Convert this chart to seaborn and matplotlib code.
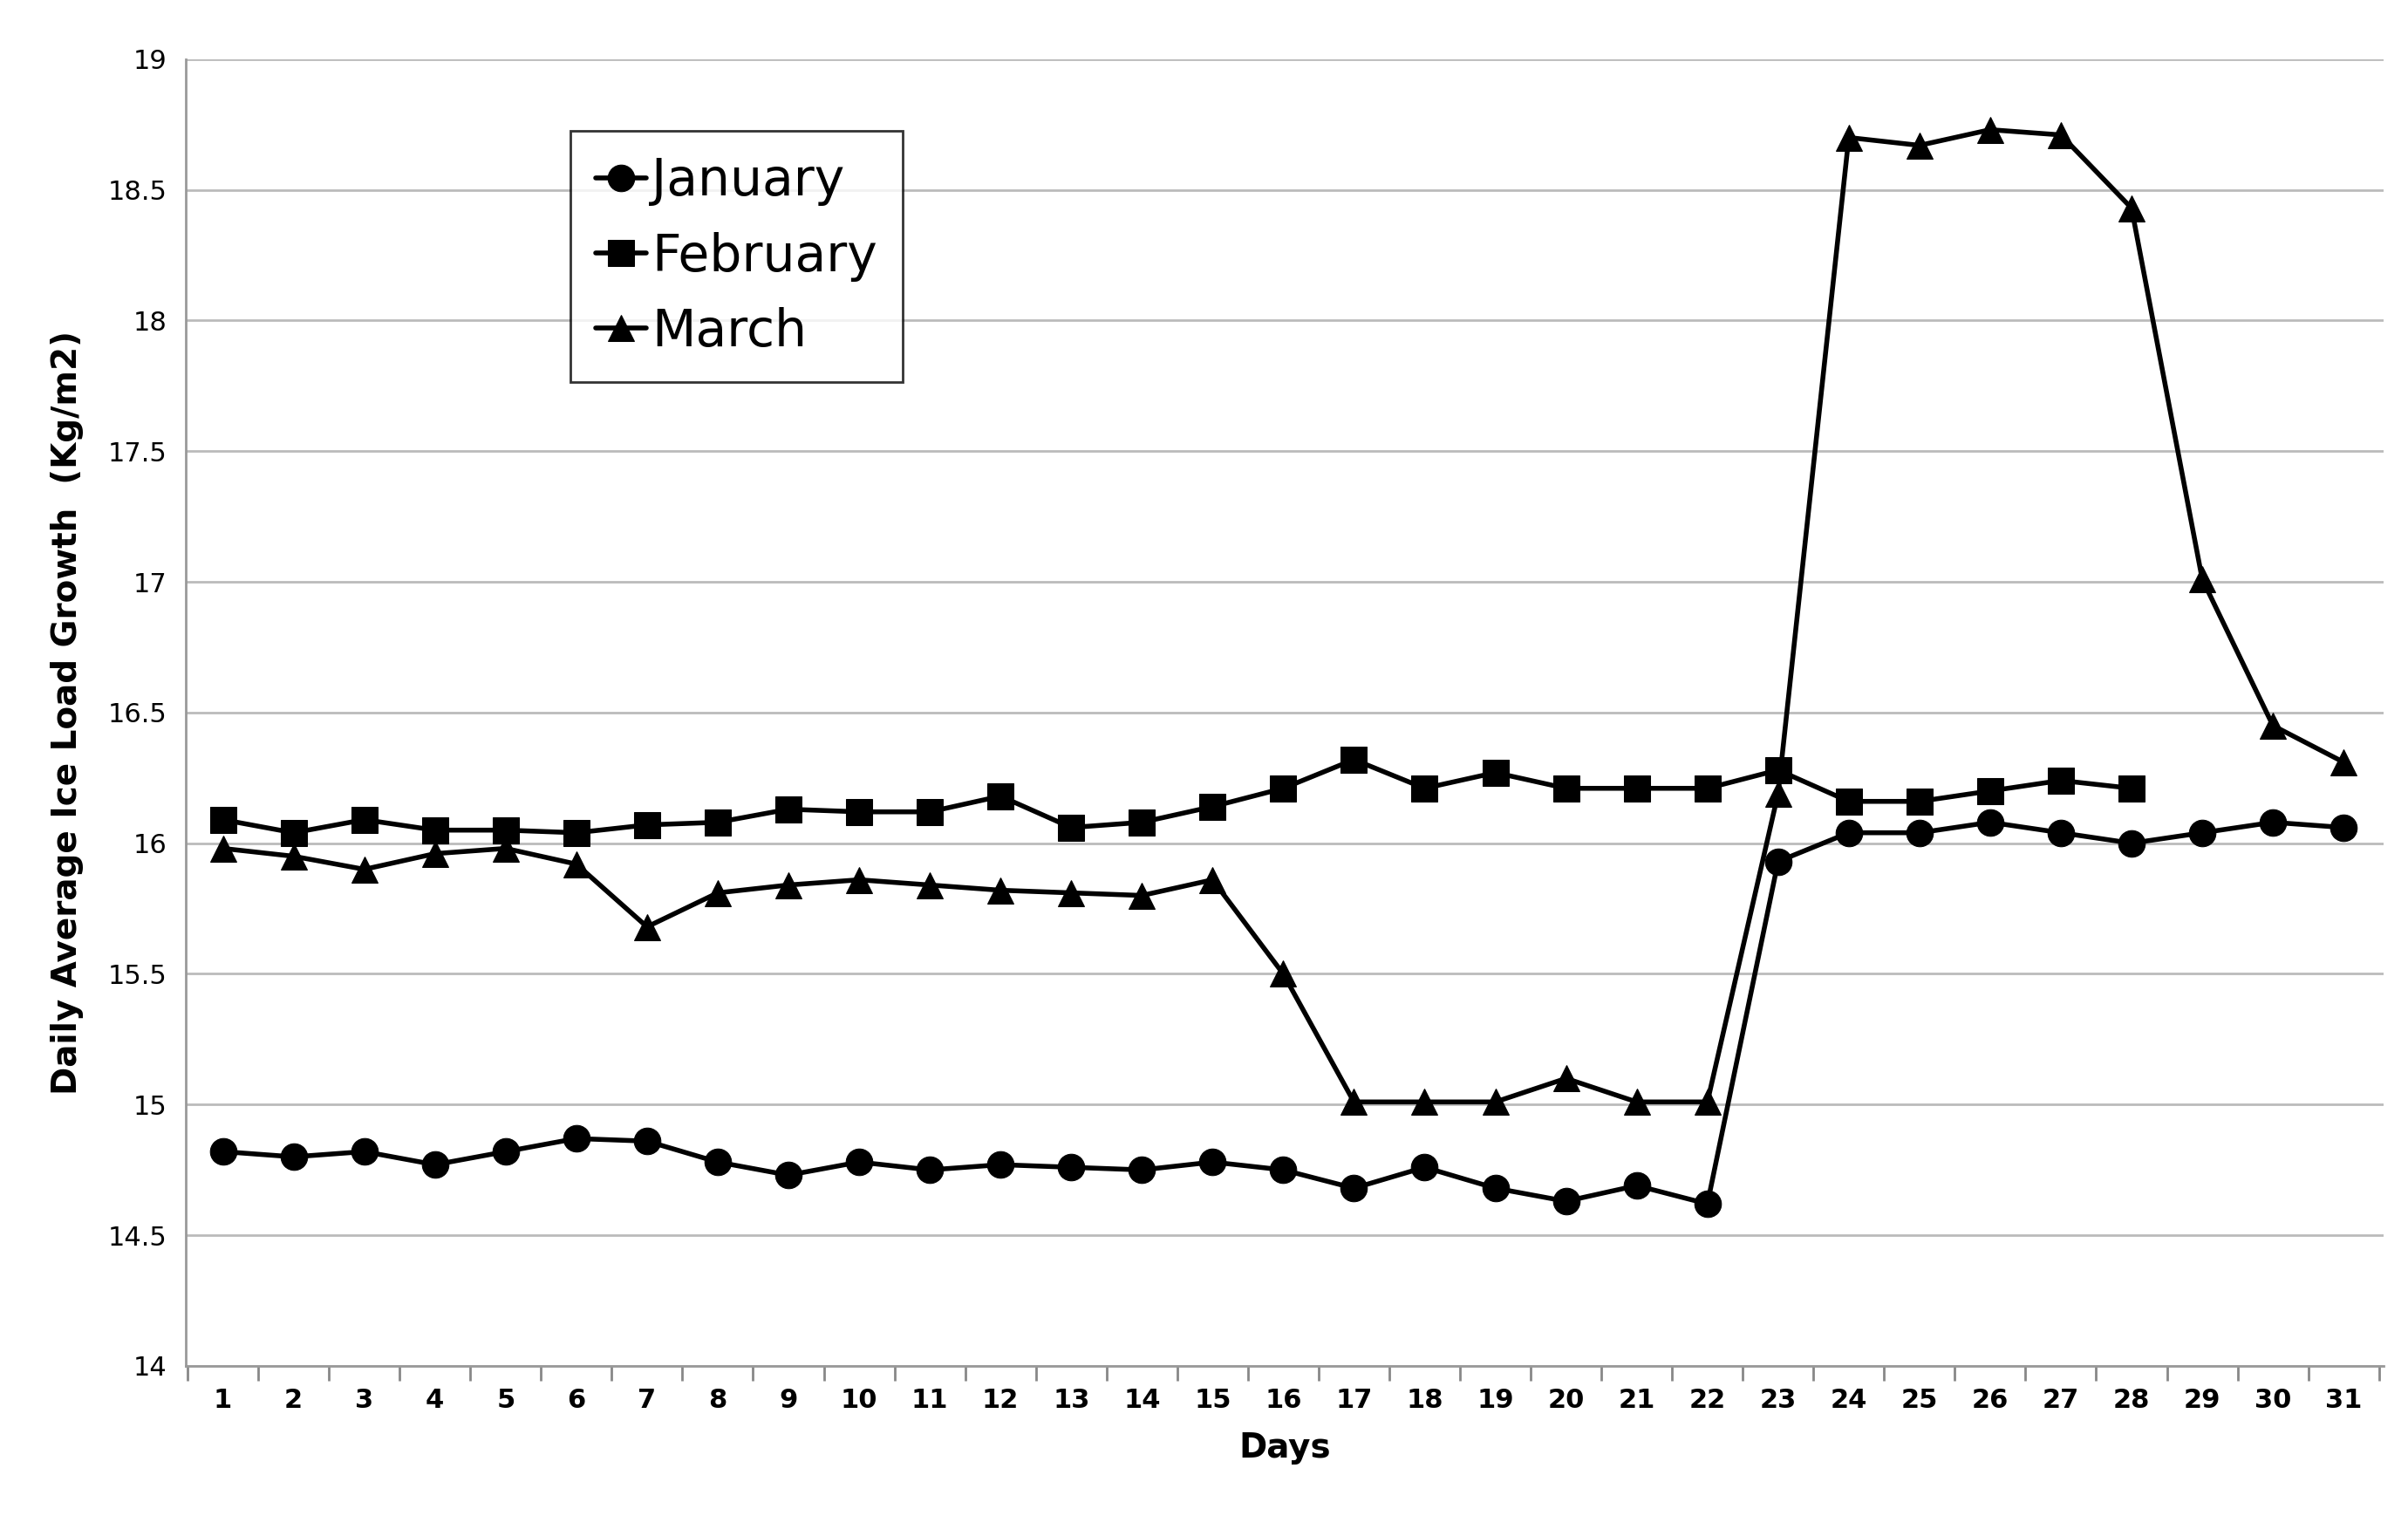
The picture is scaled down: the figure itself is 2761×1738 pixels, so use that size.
import matplotlib
matplotlib.use("Agg")
import matplotlib.pyplot as plt
import seaborn as sns
import pandas as pd
import numpy as np

days = list(range(1, 32))
january = [14.82,14.80,14.82,14.77,14.82,14.87,14.86,14.78,14.73,14.78,14.75,14.77,14.76,14.75,14.78,14.75,
           14.68,14.76,14.68,14.63,14.69,14.62,15.93,16.04,16.04,16.08,16.04,16.00,16.04,16.08,16.06]
february = [16.09,16.04,16.09,16.05,16.05,16.04,16.07,16.08,16.13,16.12,16.12,16.18,16.06,16.08,16.14,16.21,
            16.32,16.21,16.27,16.21,16.21,16.21,16.28,16.16,16.16,16.20,16.24,16.21]
march = [15.98,15.95,15.90,15.96,15.98,15.92,15.68,15.81,15.84,15.86,15.84,15.82,15.81,15.80,15.86,15.50,
         15.01,15.01,15.01,15.10,15.01,15.01,16.19,18.70,18.67,18.73,18.71,18.43,17.01,16.45,16.31]

sns.set_theme(style="white")
plt.rcParams['font.family'] = ['DejaVu Sans']
plt.rcParams['text.color'] = 'black'
plt.rcParams['axes.labelcolor'] = 'black'
plt.rcParams['xtick.color'] = 'black'
plt.rcParams['ytick.color'] = 'black'

fig = plt.figure(figsize=(27.61, 17.38), dpi=100)
ax = fig.add_axes([0.077, 0.099, 0.913, 0.862])

for name, vals, mk in [("January", january, "o"), ("February", february, "s"), ("March", march, "^")]:
    df = pd.DataFrame({"day": days[:len(vals)], "v": vals})
    sns.lineplot(data=df, x="day", y="v", ax=ax, color="black", lw=4, marker=mk,
                 markersize=22, markeredgecolor="black", label=name)

ax.set_xlim(0.47, 31.57)
ax.set_ylim(14, 19)
ax.set_yticks(np.arange(14, 19.01, 0.5))
ax.set_yticklabels(["14", "14.5", "15", "15.5", "16", "16.5", "17", "17.5", "18", "18.5", "19"], fontsize=22)
ax.set_xticks(days)
ax.set_xticklabels([str(d) for d in days], fontsize=22, fontweight="bold")
ax.set_xticks(np.arange(0.5, 32, 1), minor=True)
ax.tick_params(axis="x", which="major", length=0, pad=18)
ax.tick_params(axis="x", which="minor", length=12, color="#888888", width=2, bottom=True)
ax.tick_params(axis="y", length=0, pad=15)
ax.yaxis.grid(True, color="#bbbbbb", lw=2)
for s in ["top", "right"]:
    ax.spines[s].set_visible(False)
for s in ["left", "bottom"]:
    ax.spines[s].set_color("#999999")
    ax.spines[s].set_linewidth(2)
ax.set_xlabel("Days", fontsize=28, fontweight="bold", labelpad=15)
ax.set_ylabel("Daily Average Ice Load Growth  (Kg/m2)", fontsize=28, fontweight="bold", labelpad=20)

leg = ax.legend(loc="upper left", bbox_to_anchor=(0.175, 0.945), fontsize=42, frameon=True,
                fancybox=False, edgecolor="black", handlelength=1.0, handletextpad=0.1,
                borderpad=0.5, labelspacing=0.5, borderaxespad=0)
leg.get_frame().set_linewidth(2)

fig.savefig("out.png", dpi=100)
